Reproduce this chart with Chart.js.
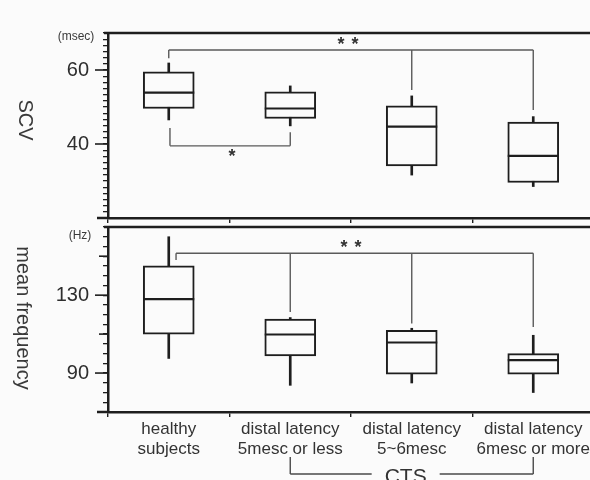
<!DOCTYPE html>
<html><head><meta charset="utf-8">
<script src="https://cdn.jsdelivr.net/npm/chart.js@4.4.1/dist/chart.umd.min.js"></script>
<style>
html,body{margin:0;padding:0;background:#fbfbfb;width:590px;height:480px;overflow:hidden;}
canvas{position:absolute;left:0;top:0;}
</style></head><body>
<canvas id="c1" width="600" height="480"></canvas>
<canvas id="c2" width="600" height="480"></canvas>
<script>
// ---- data ----
const categories = [['healthy','subjects'],['distal latency','5mesc or less'],['distal latency','5~6mesc'],['distal latency','6mesc or more']];

// SCV (msec)
const scvWhiskerLow  = [46.5, 44.9, 31.6, 28.5];
const scvQ1          = [49.6, 46.9, 34.1, 29.6];
const scvMedian      = [53.9, 49.6, 44.7, 36.8];
const scvQ3          = [59.5, 54.1, 50.3, 45.9];
const scvWhiskerHigh = [61.9, 55.7, 53.0, 47.4];
const scvRange = [20, 70];
const scvLabelledTicks = [40, 60];
const scvMinorStep = 5/3;

// mean frequency (Hz)
const mfWhiskerLow  = [97.5, 83.7, 84.9, 80.0];
const mfQ1          = [110.0, 98.8, 89.4, 89.4];
const mfMedian      = [128.0, 109.8, 105.7, 96.6];
const mfQ3          = [145.1, 117.7, 112.0, 100.0];
const mfWhiskerHigh = [160.0, 118.5, 113.0, 109.4];
const mfRange = [70, 165];
const mfLabelledTicks = [90, 130];
const mfMinorStep = 5;

// significance brackets: level, drop positions (category index) and drop ends
const scvBracketHigh = {level: 65.4, at: [0, 2, 3], to: [63.2, 54.6, 49.2], mark: '**', markAt: 1.475, markVal: 66.8};
const scvBracketLow  = {level: 39.5, at: [0.01, 1], to: [44.3, 43.2], mark: '*', markAt: 0.52, markVal: 36.6};
const mfBracket      = {level: 151.5, at: [0.06, 1, 2, 3], to: [148.0, 121.4, 115.5, 113.7], mark: '**', markAt: 1.5, markVal: 154.3};

const FONT = '"Liberation Sans", Arial, Helvetica, sans-serif';
const INK = '#1e1e1e';

function makeTicks(range, step) {
  const out = [];
  const n = Math.round((range[1] - range[0]) / step);
  for (let k = 0; k <= n; k++) out.push(Math.round((range[0] + k * step) * 1000) / 1000);
  return out;
}

function seg(ctx, x1, y1, x2, y2) { ctx.beginPath(); ctx.moveTo(x1, y1); ctx.lineTo(x2, y2); ctx.stroke(); }

const annot = {
  id: 'annot',
  afterDatasetsDraw(chart, args, o) {
    const {ctx, chartArea: ca, scales: {x, y}} = chart;
    ctx.save();
    ctx.lineCap = 'butt';
    // frame top
    ctx.strokeStyle = INK; ctx.lineWidth = 2.5;
    seg(ctx, ca.left - 4, ca.top, ca.right, ca.top);
    // bottom extension to the left
    seg(ctx, ca.left - 11, ca.bottom, ca.left, ca.bottom);
    // labelled major ticks
    ctx.lineWidth = 1.6;
    o.majors.forEach(v => { const py = y.getPixelForValue(v); seg(ctx, ca.left - 13, py, ca.left, py); });
    (o.mediums || []).forEach(v => { const py = y.getPixelForValue(v); seg(ctx, ca.left - 9, py, ca.left, py); });
    // medians
    ctx.lineWidth = 2.2; ctx.strokeStyle = INK;
    o.median.forEach((m, i) => {
      const px = x.getPixelForValue(i), py = y.getPixelForValue(m);
      seg(ctx, px - 25.5, py, px + 25.5, py);
    });
    // brackets
    ctx.strokeStyle = '#5a5a5a'; ctx.lineWidth = 1.4;
    ctx.fillStyle = '#333';
    o.brackets.forEach(b => {
      const py = y.getPixelForValue(b.level);
      const xs = b.at.map(a => x.getPixelForValue(a));
      seg(ctx, Math.min(...xs), py, Math.max(...xs), py);
      b.at.forEach((a, i) => seg(ctx, xs[i], py, xs[i], y.getPixelForValue(b.to[i])));
      const mx = x.getPixelForValue(b.markAt), my = y.getPixelForValue(b.markVal);
      ctx.font = 'bold 18px ' + FONT; ctx.textAlign = 'center'; ctx.textBaseline = 'middle';
      if (b.mark === '**') { ctx.fillText('*', mx - 7, my); ctx.fillText('*', mx + 7, my); }
      else ctx.fillText('*', mx, my);
    });
    // axis title (reads top to bottom)
    ctx.fillStyle = '#3a3a3a';
    ctx.save();
    ctx.translate(o.titleX, o.titleY);
    ctx.rotate(Math.PI / 2);
    ctx.font = '20px ' + FONT; ctx.textAlign = 'center'; ctx.textBaseline = 'middle';
    ctx.fillText(o.title, 0, 0);
    ctx.restore();
    // unit
    ctx.font = '12px ' + FONT; ctx.textAlign = 'center'; ctx.textBaseline = 'middle';
    ctx.fillText(o.unit, o.unitX, o.unitY);
    // CTS group bracket
    if (o.cts) {
      ctx.strokeStyle = '#4a4a4a'; ctx.lineWidth = 1.4;
      const x1 = x.getPixelForValue(1), x2 = x.getPixelForValue(3), xc = x.getPixelForValue(1.95);
      const yb = ca.bottom + 62, yt = ca.bottom + 45;
      seg(ctx, x1, yt, x1, yb); seg(ctx, x1, yb, xc - 34, yb);
      seg(ctx, xc + 34, yb, x2, yb); seg(ctx, x2, yb, x2, yt);
      ctx.font = '21px ' + FONT; ctx.textBaseline = 'alphabetic'; ctx.fillStyle = '#333';
      ctx.fillText('CTS', xc, ca.bottom + 71);
    }
    ctx.restore();
  }
};

function makeChart(id, cfg) {
  const tickVals = makeTicks(cfg.range, cfg.step);
  return new Chart(document.getElementById(id), {
    type: 'bar',
    data: {
      labels: categories,
      datasets: [
        {data: cfg.q1.map((v, i) => [v, cfg.q3[i]]), backgroundColor: '#fbfbfb', borderColor: INK,
         borderWidth: 2, borderSkipped: false, barThickness: 51, grouped: false, order: 0},
        {data: cfg.wl.map((v, i) => [v, cfg.wh[i]]), backgroundColor: INK, borderWidth: 0,
         barThickness: 2, grouped: false, order: 1}
      ]
    },
    options: {
      responsive: false, animation: false, events: [],
      layout: {padding: {top: cfg.top, right: 6, left: 0, bottom: 0}},
      plugins: {legend: {display: false}, tooltip: {enabled: false}, annot: cfg.annot},
      scales: {
        x: {
          offset: true,
          grid: {offset: true, drawOnChartArea: false, drawTicks: true, tickLength: 5, color: INK, lineWidth: 1.4},
          border: {display: true, color: INK, width: 2.5},
          ticks: {autoSkip: false, maxRotation: 0, padding: 2, color: '#333',
                  font: {family: FONT, size: 17, lineHeight: 1.18},
                  callback: cfg.showLabels ? function (v, i) { return this.getLabelForValue(v); } : () => ''},
          afterFit: s => { s.height = cfg.xh; }
        },
        y: {
          min: cfg.range[0], max: cfg.range[1],
          afterBuildTicks: s => { s.ticks = tickVals.map(v => ({value: v})); },
          afterFit: s => { s.width = 108; },
          grid: {drawOnChartArea: false, drawTicks: true, tickLength: 5, color: INK, lineWidth: 1.3},
          border: {display: true, color: INK, width: 2.5},
          ticks: {autoSkip: false, padding: 14, color: '#2e2e2e', font: {family: FONT, size: 20},
                  callback: v => cfg.labelled.includes(Math.round(v)) && Math.abs(v - Math.round(v)) < 1e-6 ? String(Math.round(v)) : ''}
        }
      }
    },
    plugins: [annot]
  });
}

makeChart('c1', {
  range: scvRange, step: scvMinorStep, labelled: scvLabelledTicks,
  q1: scvQ1, q3: scvQ3, wl: scvWhiskerLow, wh: scvWhiskerHigh,
  top: 33, xh: 262, showLabels: false,
  annot: {majors: scvLabelledTicks, mediums: [], median: scvMedian, brackets: [scvBracketHigh, scvBracketLow],
          title: 'SCV', titleX: 25, titleY: 120, unit: '(msec)', unitX: 76, unitY: 37, cts: false}
});

makeChart('c2', {
  range: mfRange, step: mfMinorStep, labelled: mfLabelledTicks,
  q1: mfQ1, q3: mfQ3, wl: mfWhiskerLow, wh: mfWhiskerHigh,
  top: 227, xh: 68, showLabels: true,
  annot: {majors: mfLabelledTicks, mediums: [110, 150], median: mfMedian, brackets: [mfBracket],
          title: 'mean frequency', titleX: 23, titleY: 318, unit: '(Hz)', unitX: 80, unitY: 236, cts: true}
});
</script>
</body></html>
